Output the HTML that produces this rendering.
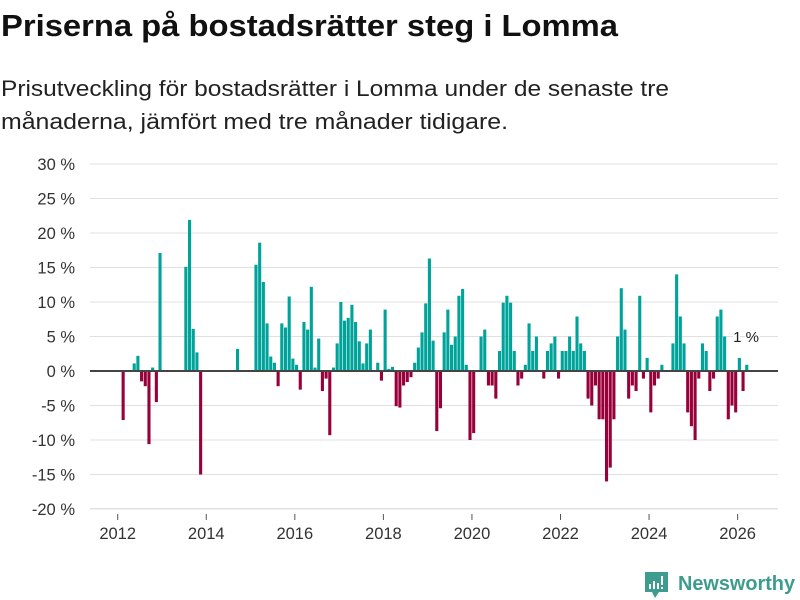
<!DOCTYPE html>
<html><head><meta charset="utf-8"><style>
body{margin:0;background:#fff;width:800px;height:600px;overflow:hidden;font-family:"Liberation Sans","DejaVu Sans",sans-serif;}
svg{position:absolute;left:0;top:0}
</style></head><body>
<svg width="800" height="150">
<text x="1" y="36" font-size="31" font-weight="bold" fill="#111" textLength="617" lengthAdjust="spacingAndGlyphs" font-family="Liberation Sans, sans-serif">Priserna på bostadsrätter steg i Lomma</text>
<text x="1" y="96" font-size="22" fill="#222" textLength="668" lengthAdjust="spacingAndGlyphs" font-family="Liberation Sans, sans-serif">Prisutveckling för bostadsrätter i Lomma under de senaste tre</text>
<text x="1" y="129" font-size="22" fill="#222" textLength="507" lengthAdjust="spacingAndGlyphs" font-family="Liberation Sans, sans-serif">månaderna, jämfört med tre månader tidigare.</text>
</svg>
<svg id="chart" width="800" height="600"></svg>
<script>
// month index counted from Jan 2012
const monthIndex = [1,4,5,6,7,8,9,10,11,18,19,20,21,22,32,
37,38,39,40,41,42,43,44,45,46,47,48,49,50,51,52,53,54,55,56,57,58,59,60,61,62,63,64,65,66,67,68,
70,71,72,73,74,75,76,77,78,79,80,81,82,83,84,85,86,87,88,89,90,91,92,93,94,95,96,
98,99,100,101,102,103,104,105,106,107,108,109,110,111,112,113,
115,116,117,118,119,120,121,122,123,124,125,126,127,128,129,130,131,132,133,134,135,136,137,138,139,140,141,142,143,144,145,146,147,
150,151,152,153,154,155,156,157,158,159,160,161,162,163,164,165,166,167,168,169,170];
const changePct = [-7.1,1.1,2.2,-1.5,-2.2,-10.6,0.5,-4.5,17.1,15.1,21.9,6.1,2.7,-15.0,3.2,
15.4,18.6,12.9,6.9,2.1,1.2,-2.2,6.9,6.3,10.8,1.8,0.9,-2.7,7.1,6.0,12.2,0.5,4.7,-2.9,-1.1,-9.3,0.5,4.0,10.0,7.3,7.7,9.6,7.1,4.3,1.1,4.0,6.0,
1.2,-1.4,8.9,0.3,0.6,-5.1,-5.3,-2.1,-1.6,-0.9,1.2,3.4,5.6,9.8,16.3,4.4,-8.7,-5.4,5.6,8.9,3.8,5.0,10.9,11.9,0.9,-10.0,-9.0,
5.0,6.0,-2.1,-2.1,-4.0,2.9,9.9,10.9,9.9,2.9,-2.1,-1.1,0.9,6.9,2.9,5.0,
-1.1,2.9,4.0,5.0,-1.1,2.9,2.9,5.0,2.9,7.9,4.0,2.9,-4.0,-5.0,-2.1,-7.0,-7.0,-16.0,-14.0,-7.0,5.0,12.0,6.0,-4.0,-2.1,-2.9,10.9,-1.1,1.9,-6.0,-2.1,-1.1,0.9,
4.0,14.0,7.9,4.0,-6.0,-8.0,-10.0,-1.1,4.0,2.9,-2.9,-1.1,7.9,8.9,5.0,-7.0,-5.0,-6.0,1.9,-2.9,0.9];
const yTicks = [30,25,20,15,10,5,0,-5,-10,-15,-20];
const xTickYears = [2012,2014,2016,2018,2020,2022,2024,2026];
const lastLabel = "1 %";

const NS="http://www.w3.org/2000/svg";
const svg=document.getElementById('chart');
const y=v=>371 - v*6.9;
const x=m=>117.7 + m*3.69;
function el(t,a){const e=document.createElementNS(NS,t);for(const k in a)e.setAttribute(k,a[k]);svg.appendChild(e);return e;}
yTicks.forEach(t=>{
  if(t!==0){const g=el('line',{x1:90,x2:778,y1:y(t),y2:y(t),stroke:'#e0e0e0','stroke-width':1});
  
  }
  const tx=el('text',{x:75,y:y(t)+6,'text-anchor':'end','font-size':16.5,fill:'#333','font-family':'Liberation Sans, sans-serif'});
  tx.textContent=t+' %';
  
  
});
const base=el('line',{x1:90,x2:778,y1:508.5,y2:508.5,stroke:'#e0e0e0','stroke-width':1});


xTickYears.forEach(yr=>{
  const xx=x((yr-2012)*12);
  const tk=el('line',{x1:xx,x2:xx,y1:514,y2:520,stroke:'#555','stroke-width':1});
  
  
  const tx=el('text',{x:xx,y:539,'text-anchor':'middle','font-size':16.5,fill:'#333','font-family':'Liberation Sans, sans-serif'});
  tx.textContent=yr;
  
  
});
monthIndex.forEach((m,i)=>{
  const v=changePct[i];
  const r=el('rect',{x:x(m)+0.2,width:3.1,y:Math.min(y(v),y(0)),height:Math.abs(y(v)-y(0)),fill:v>=0?'#00a39a':'#970039'});
  
  
});
const zl=el('line',{x1:90,x2:778,y1:371,y2:371,stroke:'#444','stroke-width':2});


const lm=monthIndex[monthIndex.length-1];
const lv=changePct[changePct.length-1];
const lb=el('text',{x:x(lm)+1,y:y(lv)-23,'text-anchor':'middle','font-size':15,fill:'#222','font-family':'Liberation Sans, sans-serif',stroke:'#fff','stroke-width':3,'paint-order':'stroke'});
lb.textContent=lastLabel;


</script>
<svg width="800" height="600" style="position:absolute;left:0;top:0;pointer-events:none">
<path d="M645 572h23v20h-9l-4 6-3-6h-7z" fill="#3c9d8e"/>
<rect x="649" y="584" width="2" height="5" fill="#fff"/><rect x="653" y="581" width="2" height="8" fill="#fff"/><rect x="657" y="583" width="2" height="6" fill="#fff"/><rect x="661" y="576" width="2" height="9" fill="#fff"/><rect x="661" y="587" width="2" height="2" fill="#fff"/>
<text x="678" y="590" font-size="20" font-weight="bold" fill="#3c9d8e" textLength="117" lengthAdjust="spacingAndGlyphs" font-family="Liberation Sans, sans-serif">Newsworthy</text>
</svg>
</body></html>
